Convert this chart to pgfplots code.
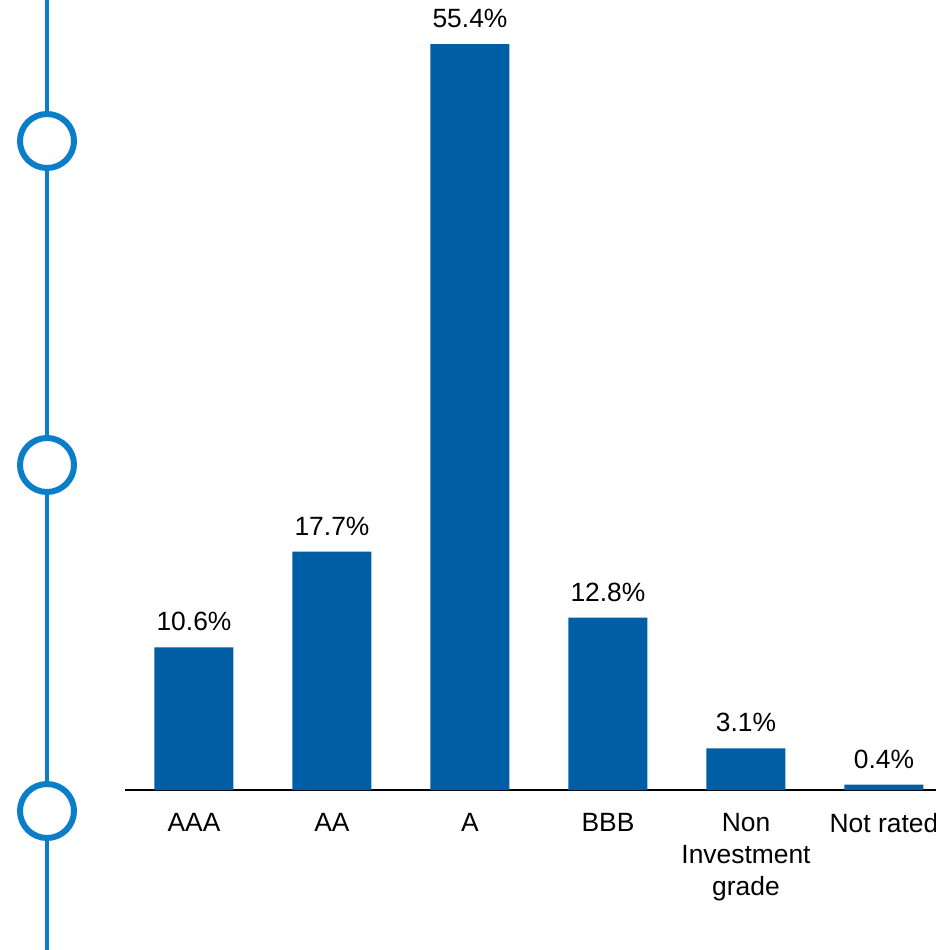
\documentclass[border=0pt]{standalone}
\usepackage{pgfplots}
\pgfplotsset{compat=1.18}
\usepackage{fontspec}
\setmainfont{Liberation Sans}
\definecolor{barblue}{RGB}{0,94,165}
\definecolor{lineblue}{RGB}{10,126,200}
\begin{document}
\begin{tikzpicture}
\useasboundingbox (0,0) rectangle (468pt,475pt);
\clip (0,0) rectangle (468pt,475pt);
% decorative timeline
\draw[lineblue, line width=2pt] (23.5pt,0pt) -- (23.5pt,475pt);
\foreach \cy in {404.5,242.5,69.5}{
  \draw[lineblue, line width=3pt, fill=white] (23.5pt,\cy pt) circle (13.5pt);
}
\begin{axis}[
  at={(62.5pt,80pt)}, anchor=south west,
  scale only axis, width=405.5pt, height=395pt,
  xmin=-0.5, xmax=5.377, ymin=0, ymax=58.67,
  axis x line=bottom, axis y line=none,
  axis line style={-, black, line width=1pt},
  xtick={0,1,2,3,4,5},
  xticklabels={AAA,AA,A,BBB,{Non\\Investment\\grade},Not rated},
  major tick length=0pt,
  xticklabel style={align=center, font=\fontsize{13.2}{16}\selectfont, yshift=-8pt},
  ybar, bar width=39.5pt,
  /pgf/number format/assume math mode=true,
  nodes near coords={\pgfmathprintnumber[fixed,fixed zerofill,precision=1,assume math mode=true]{\pgfplotspointmeta}\%},
  nodes near coords style={font=\fontsize{13.2}{15}\selectfont, black, anchor=south, yshift=4.5pt},
]
\addplot[fill=barblue, draw=none] coordinates {(0,10.6) (1,17.7) (2,55.4) (3,12.8) (4,3.1) (5,0.4)};
\end{axis}
\end{tikzpicture}
\end{document}
